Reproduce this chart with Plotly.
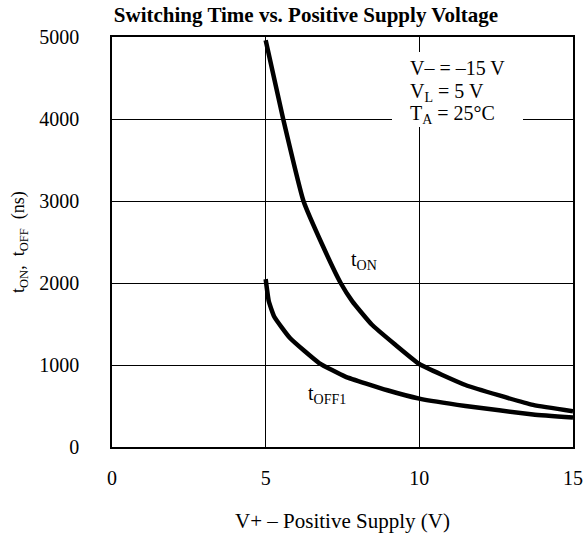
import plotly.graph_objects as go

# Data
t_on_x = [5.0, 5.57, 6.23, 6.85, 7.44, 7.82, 8.45, 9.18, 10.0, 11.5, 13.7, 15.0]
t_on_y = [4960, 4000, 3000, 2460, 2000, 1776, 1494, 1259, 1012, 756, 513, 436]
t_off_x = [5.0, 5.1, 5.28, 5.79, 6.74, 7.59, 8.96, 10.0, 11.5, 13.7, 15.0]
t_off_y = [2047, 1780, 1588, 1329, 1024, 859, 692, 590, 500, 397, 359]

x_ticks = [0, 5, 10, 15]
y_ticks = [0, 1000, 2000, 3000, 4000, 5000]

FONT = "Liberation Serif, Times New Roman, serif"
W, H = 584, 537
L, R, T, B = 112, 11, 37, 90

fig = go.Figure()
fig.add_trace(go.Scatter(x=t_on_x, y=t_on_y, mode="lines", name="tON",
                         line=dict(color="black", width=4.5, shape="spline", smoothing=0.4)))
fig.add_trace(go.Scatter(x=t_off_x, y=t_off_y, mode="lines", name="tOFF1",
                         line=dict(color="black", width=4.5, shape="spline", smoothing=0.4)))

fig.update_layout(
    width=W, height=H,
    margin=dict(l=L, r=R, t=T, b=B, autoexpand=False),
    paper_bgcolor="white", plot_bgcolor="white",
    showlegend=False,
    font=dict(family=FONT, size=20, color="black"),
    title=dict(text="<b>Switching Time vs. Positive Supply Voltage</b>",
               x=306 / W, xref="container", xanchor="center",
               y=1 - 15 / H, yref="container", yanchor="middle",
               font=dict(family=FONT, size=21, color="black")),
)
fig.update_xaxes(range=[0, 15], tickvals=x_ticks, showgrid=True, gridcolor="black", gridwidth=1,
                 showline=True, linecolor="black", linewidth=1.5, mirror=True,
                 zeroline=False, ticks="", ticklabelstandoff=12, automargin=False,
                 tickfont=dict(family=FONT, size=20),
                 title=dict(text="V+ – Positive Supply (V)", standoff=26,
                            font=dict(family=FONT, size=21)))
fig.update_yaxes(range=[0, 5000], tickvals=y_ticks, showgrid=True, gridcolor="black", gridwidth=1,
                 showline=True, linecolor="black", linewidth=1.5, mirror=True,
                 zeroline=False, ticks="", ticklabelstandoff=27, automargin=False,
                 tickfont=dict(family=FONT, size=20))

plot_w = W - L - R
plot_h = H - T - B
# y axis title
fig.add_annotation(x=-(L - 19) / plot_w, y=0.5, xref="paper", yref="paper",
                   xanchor="center", yanchor="middle",
                   text="t<sub>ON</sub>,  t<sub>OFF</sub>  (ns)", textangle=-90, showarrow=False,
                   font=dict(family=FONT, size=18))

fig.add_annotation(x=8.2, y=2280, xref="x", yref="y", text="t<sub>ON</sub>", showarrow=False,
                   font=dict(family=FONT, size=20))
fig.add_annotation(x=7.0, y=640, xref="x", yref="y", text="t<sub>OFF1</sub>", showarrow=False,
                   font=dict(family=FONT, size=20))

# white box behind the condition notes (interrupts grid lines)
fig.add_shape(type="rect", xref="paper", yref="paper", layer="above",
              x0=(392 - L) / plot_w, x1=(523 - L) / plot_w,
              y0=1 - (127 - T) / plot_h, y1=1 - (52 - T) / plot_h,
              fillcolor="white", line=dict(width=0))
notes = ["V– = –15 V", "V<sub>L</sub> = 5 V", "T<sub>A</sub> = 25°C"]
note_y = [68, 92, 115]
for txt, py in zip(notes, note_y):
    fig.add_annotation(x=(408 - L) / plot_w, y=1 - (py - T) / plot_h, xref="paper", yref="paper",
                       xanchor="left", yanchor="middle", text=txt, showarrow=False,
                       font=dict(family=FONT, size=20))

fig.write_html("out.html", config={"displayModeBar": False},
               post_script="document.body.style.margin='0';")
